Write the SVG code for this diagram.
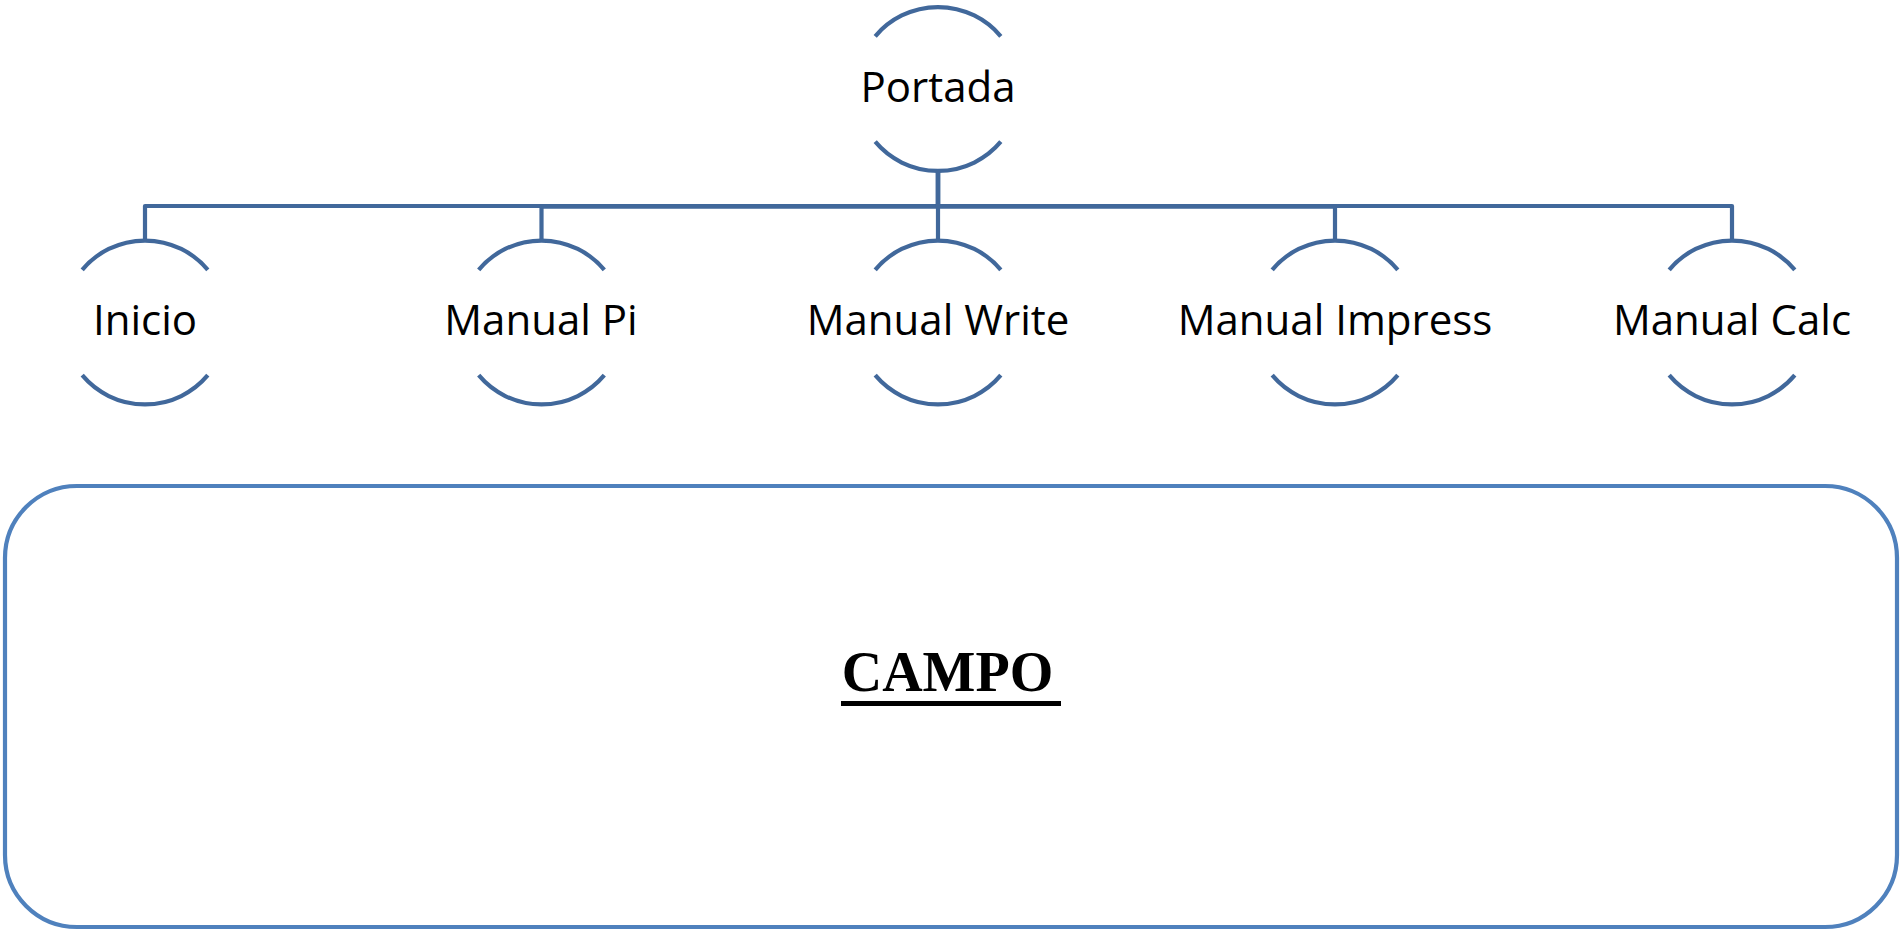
<svg xmlns="http://www.w3.org/2000/svg" width="1900" height="931" viewBox="0 0 1900 931">
<style>
.arc{fill:none;stroke:#41689B;stroke-width:4.2}
.conn{fill:none;stroke:#41689B;stroke-width:4.2;stroke-linejoin:round}
.lbl{font-family:"Open Sans","Liberation Sans",sans-serif;font-size:42px;fill:#000;text-anchor:middle}
.campo{font-family:"Liberation Serif","Times New Roman",serif;font-weight:bold;font-size:56px;fill:#000;text-anchor:middle}
</style>
<rect width="1900" height="931" fill="#fff"/>
<g id="connectors">
<path class="conn" d="M938 171 V206 H145 V240"/>
<path class="conn" d="M938 171 V206.7 H541.5 V240"/>
<path class="conn" d="M938 171 V240"/>
<path class="conn" d="M938 171 V206.7 H1335 V240"/>
<path class="conn" d="M938 171 V206 H1732 V240"/>
</g>
<g id="portada">
<path class="arc" d="M875.2 36.3 A82 82 0 0 1 1000.8 36.3"/>
<path class="arc" d="M875.2 141.7 A82 82 0 0 0 1000.8 141.7"/>
<text class="lbl" x="938" y="102">Portada</text>
</g>
<g id="inicio">
<path class="arc" d="M82.2 269.8 A82 82 0 0 1 207.8 269.8"/>
<path class="arc" d="M82.2 375.2 A82 82 0 0 0 207.8 375.2"/>
<text class="lbl" x="145" y="335">Inicio</text>
</g>
<g id="manual-pi">
<path class="arc" d="M478.7 269.8 A82 82 0 0 1 604.3 269.8"/>
<path class="arc" d="M478.7 375.2 A82 82 0 0 0 604.3 375.2"/>
<text class="lbl" x="541" y="335">Manual Pi</text>
</g>
<g id="manual-write">
<path class="arc" d="M875.2 269.8 A82 82 0 0 1 1000.8 269.8"/>
<path class="arc" d="M875.2 375.2 A82 82 0 0 0 1000.8 375.2"/>
<text class="lbl" x="938" y="335">Manual Write</text>
</g>
<g id="manual-impress">
<path class="arc" d="M1272.2 269.8 A82 82 0 0 1 1397.8 269.8"/>
<path class="arc" d="M1272.2 375.2 A82 82 0 0 0 1397.8 375.2"/>
<text class="lbl" x="1335" y="335">Manual Impress</text>
</g>
<g id="manual-calc">
<path class="arc" d="M1669.2 269.8 A82 82 0 0 1 1794.8 269.8"/>
<path class="arc" d="M1669.2 375.2 A82 82 0 0 0 1794.8 375.2"/>
<text class="lbl" x="1732" y="335">Manual Calc</text>
</g>
<g id="campo">
<rect x="5" y="486" width="1892" height="441" rx="72" ry="72" fill="none" stroke="#4F81BD" stroke-width="4.2"/>
<text class="campo" x="947.5" y="690.5">CAMPO</text>
<rect x="841" y="701" width="220" height="5" fill="#000"/>
</g>
</svg>
